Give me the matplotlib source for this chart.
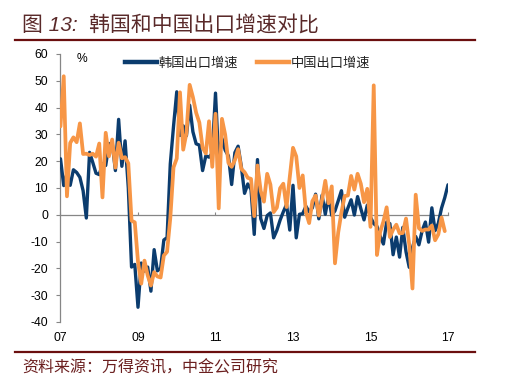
import matplotlib
matplotlib.use("Agg")
import matplotlib.pyplot as plt
from matplotlib.lines import Line2D
import numpy as np

plt.rcParams['font.family'] = ['Liberation Sans', 'Noto Sans CJK SC']

# Monthly YoY export growth (%), Jan 2007 onwards
korea_exports = (
    [20.9, 10.9, 15.5, 11.0, 16.8, 15.8, 14.0, 9.0, -1.2, 23.3, 19.5, 15.5] +      # 2007
    [15.0, 19.0, 18.4, 26.4, 26.9, 16.5, 35.6, 18.1, 27.6, 10.0, -19.5, -18.5] +   # 2008
    [-34.5, -18.0, -21.0, -19.5, -28.5, -13.0, -20.9, -20.0, -9.4, -8.5, 19.0, 33.0] +  # 2009
    [45.9, 29.6, 33.2, 29.5, 40.9, 31.0, 26.5, 26.0, 16.5, 22.0, 21.5, 23.0] +     # 2010
    [45.4, 20.0, 28.5, 24.1, 22.0, 11.3, 23.2, 25.6, 18.0, 8.0, 11.5, 9.5] +       # 2011
    [-7.3, 20.6, -1.4, -5.1, -0.3, 0.7, -8.6, -5.8, -2.0, 1.1, 3.9, -5.7] +        # 2012
    [11.0, -8.6, 0.2, 0.4, 3.2, 1.1, 2.6, 7.7, -1.5, 7.3, 0.2, 7.0] +              # 2013
    [-0.2, 1.5, 5.2, 9.0, -0.9, 2.5, 5.6, -0.1, 6.8, 2.3, -1.9, 3.6] +             # 2014
    [-0.9, -3.3, -4.3, -8.0, -10.9, -2.7, -3.3, -14.9, -8.3, -15.8, -4.7, -13.8] + # 2015
    [-19.6, -12.2, -8.1, -11.2, -5.9, -2.7, -10.2, 2.6, -5.9, -3.2, 2.5, 6.4] +    # 2016
    [11.2]                                                                           # 2017
)
china_exports = (
    [33.0, 51.7, 6.9, 26.8, 28.9, 27.1, 34.1, 22.7, 22.8, 22.3, 22.8, 21.7] +      # 2007
    [26.6, 6.5, 30.6, 21.8, 28.1, 17.6, 26.9, 21.1, 21.5, 19.2, -2.2, -2.8] +      # 2008
    [-17.5, -25.7, -17.1, -22.6, -26.4, -21.4, -23.0, -23.4, -15.2, -13.8, -1.2, 17.7] +  # 2009
    [21.0, 45.7, 24.3, 30.5, 48.5, 43.9, 38.1, 34.4, 25.1, 22.9, 34.9, 17.9] +     # 2010
    [37.7, 2.4, 35.8, 29.9, 19.4, 17.9, 20.4, 24.5, 17.1, 15.9, 13.8, 13.4] +      # 2011
    [-0.5, 18.4, 8.9, 4.9, 15.3, 11.3, 1.0, 2.7, 9.9, 11.6, 2.9, 14.1] +           # 2012
    [25.0, 21.8, 10.0, 14.7, 1.0, -3.1, 5.1, 7.2, -0.3, 5.6, 12.7, 4.3] +          # 2013
    [10.6, -18.1, -6.6, 0.9, 7.0, 7.2, 14.5, 9.4, 15.3, 11.6, 4.7, 9.7] +          # 2014
    [-4.5, 48.3, -15.0, -6.4, -2.5, 2.8, -8.3, -5.5, -3.7, -6.9, -6.8, -1.4] +     # 2015
    [-11.2, -27.5, 7.5, -5.0, -6.0, -5.5, -5.5, -4.0, -9.5, -7.3, -1.0, -6.1]      # 2016
)
series_names = ['韩国出口增速', '中国出口增速']
year_ticks = [0, 24, 48, 72, 96, 120]
year_labels = ['07', '09', '11', '13', '15', '17']
y_ticks = [60, 50, 40, 30, 20, 10, 0, -10, -20, -30, -40]

navy = '#0B3C6E'
orange = '#F79646'
dark_red = '#6B0F0F'
grey = '#868686'

fig = plt.figure(figsize=(5.06, 3.82), dpi=100)
ax = fig.add_axes([60.5 / 506, 1 - 322 / 382, (448 - 60.5) / 506, (322 - 54) / 382])

xk = np.arange(len(korea_exports))
xc = np.arange(len(china_exports))
lk, = ax.plot(xk, korea_exports, color=navy, lw=2.4, solid_joinstyle='round',
              solid_capstyle='round', zorder=3)
lc, = ax.plot(xc, china_exports, color=orange, lw=2.7, solid_joinstyle='round',
              solid_capstyle='round', zorder=4)

ax.set_xlim(0, 120)
ax.set_ylim(-40, 60)
ax.set_yticks(y_ticks)
ax.set_yticklabels([str(v) for v in y_ticks])

for s in ['top', 'right']:
    ax.spines[s].set_visible(False)
ax.spines['left'].set_color(grey)
ax.spines['left'].set_linewidth(0.9)
ax.spines['bottom'].set_position(('data', 0))
ax.spines['bottom'].set_color(grey)
ax.spines['bottom'].set_linewidth(0.9)

ax.set_xticks(year_ticks)
ax.tick_params(axis='x', direction='in', length=2.5, width=0.8, color=grey,
               labelbottom=False)
ax.tick_params(axis='y', direction='out', length=3, width=0.8, color=grey,
               labelsize=8.7, pad=6, labelcolor='black')

sec = ax.secondary_xaxis(0)
sec.set_xticks(year_ticks)
sec.set_xticklabels(year_labels)
sec.tick_params(length=0, labelsize=8.7, pad=7)
sec.spines['bottom'].set_visible(False)

fig.text(81.5 / 506, 1 - 59 / 382, '%', ha='center', va='center', fontsize=8.7)

leg_handles = [Line2D([], [], color=navy, lw=3.2), Line2D([], [], color=orange, lw=3.2)]
fig.legend(leg_handles, series_names, loc='center left',
           bbox_to_anchor=(125 / 506, 1 - 63 / 382), ncol=2, frameon=False,
           borderpad=0, borderaxespad=0, handlelength=2.4, handletextpad=0.15,
           columnspacing=1.45, prop={'family': ['Noto Sans CJK SC'], 'size': 9.5},
           labelcolor='#222222')

fig.text(22 / 506, 1 - 25 / 382, '图 13:  韩国和中国出口增速对比', ha='left', va='center',
         fontsize=15, color='#5A2A2A', style='italic')
fig.add_artist(Line2D([15 / 506, 475 / 506], [1 - 40 / 382, 1 - 40 / 382],
                      transform=fig.transFigure, color=dark_red, lw=1.6))
fig.add_artist(Line2D([15 / 506, 475 / 506], [1 - 352 / 382, 1 - 352 / 382],
                      transform=fig.transFigure, color=dark_red, lw=1.6))
fig.text(22 / 506, 1 - 368 / 382, '资料来源：万得资讯，中金公司研究', ha='left', va='center',
         fontsize=11.5, color='#6B1F1F', style='italic')

fig.savefig('out.png', dpi=100)
